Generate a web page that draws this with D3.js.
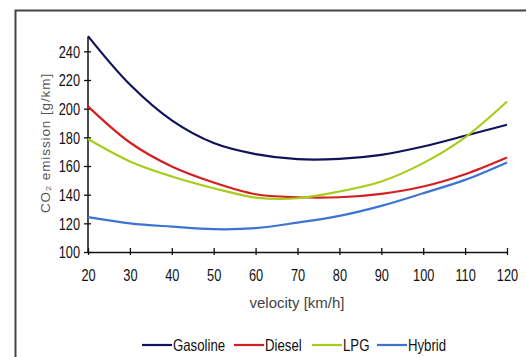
<!DOCTYPE html>
<html>
<head>
<meta charset="utf-8">
<script src="https://cdn.jsdelivr.net/npm/d3@7"></script>
<style>
  html, body { margin: 0; padding: 0; background: #fff; }
  svg { display: block; }
</style>
</head>
<body>
<div id="chart"></div>
<script>
// velocity in km/h
const velocities = [20, 30, 40, 50, 60, 70, 80, 90, 100, 110, 120];

// CO2 emission in g/km
const gasoline = [250.6, 216.8, 191.8, 176.0, 168.3, 164.8, 165.0, 167.8, 173.6, 181.1, 188.8];
const diesel   = [201.6, 176.4, 159.7, 148.5, 140.3, 138.2, 138.2, 140.6, 145.7, 154.3, 166.0];
const lpg      = [178.8, 163.2, 152.7, 144.5, 138.0, 137.5, 142.2, 149.2, 162.0, 180.0, 205.0];
const hybrid   = [124.3, 120.0, 117.7, 115.9, 116.6, 120.5, 125.2, 132.2, 141.0, 150.3, 162.5];

const seriesNames = ['Gasoline', 'Diesel', 'LPG', 'Hybrid'];
const seriesColors = ['#12125c', '#d42020', '#a8cc1c', '#3b74d2'];

const yTicks = [100, 120, 140, 160, 180, 200, 220, 240];
const xTicks = [20, 30, 40, 50, 60, 70, 80, 90, 100, 110, 120];

const series = [gasoline, diesel, lpg, hybrid].map((vals, i) => ({
  name: seriesNames[i],
  color: seriesColors[i],
  points: vals.map((v, j) => ({ x: velocities[j], y: v }))
}));

const W = 527, H = 357;
const NARROW = 0.8; // no Arial Narrow here, so squeeze Liberation Sans
const FONT = '"Liberation Sans", Arial, sans-serif';

const svg = d3.select('#chart').append('svg')
  .attr('width', W)
  .attr('height', H)
  .style('font-family', FONT);

// squeeze a text horizontally, keeping its anchor point in place
function squeeze(sel) {
  sel.each(function () {
    const t = d3.select(this);
    const tx = +t.attr('x') || 0;
    t.attr('x', tx / NARROW).attr('transform', `scale(${NARROW},1)`);
  });
}

// outer frame (only top and left edges are visible in the crop)
svg.append('path')
  .attr('d', `M15.5,${H} V10.5 H526`)
  .attr('fill', 'none')
  .attr('stroke', '#444')
  .attr('stroke-width', 2);

const x = d3.scaleLinear().domain([20, 120]).range([88, 507]);
const y = d3.scaleLinear().domain([100, 250]).range([252, 37]);

// axes
const yAxis = svg.append('g')
  .attr('transform', `translate(${x(20)},0)`)
  .call(d3.axisLeft(y).tickValues(yTicks).tickSizeInner(4).tickSizeOuter(0).tickPadding(4));
const xAxis = svg.append('g')
  .attr('transform', `translate(0,${y(100)})`)
  .call(d3.axisBottom(x).tickValues(xTicks).tickSizeInner(4).tickSizeOuter(0).tickPadding(14));

[yAxis, xAxis].forEach(g => {
  g.select('.domain').attr('stroke', '#111').attr('stroke-width', 1.5);
  g.selectAll('.tick line').attr('stroke', '#111').attr('stroke-width', 1.3);
  g.selectAll('.tick text')
    .attr('fill', '#111')
    .style('font-family', FONT)
    .style('font-size', '16px');
});
// ticks cross the axis line
yAxis.selectAll('.tick line').attr('x1', -4).attr('x2', 3);
xAxis.selectAll('.tick line').attr('y1', -4).attr('y2', 3);
// y-axis line runs to the top of the scale
yAxis.select('.domain').attr('d', `M0,${y(250)}V${y(100)}`);
yAxis.selectAll('.tick text').attr('dy', '0.36em').call(squeeze);
xAxis.selectAll('.tick text').attr('dy', '0.71em').call(squeeze);

// curves
const line = d3.line()
  .x(d => x(d.x))
  .y(d => y(d.y))
  .curve(d3.curveCatmullRom.alpha(0.5));

svg.append('g')
  .selectAll('path')
  .data(series)
  .join('path')
    .attr('d', d => line(d.points))
    .attr('fill', 'none')
    .attr('stroke', d => d.color)
    .attr('stroke-width', 2.2);

// axis titles
svg.append('text')
  .attr('x', 297)
  .attr('y', 308)
  .attr('text-anchor', 'middle')
  .style('font-size', '15px')
  .attr('fill', '#444')
  .text('velocity [km/h]');

svg.append('text')
  .attr('transform', 'translate(50,143) rotate(-90)')
  .attr('text-anchor', 'middle')
  .style('font-size', '13.5px')
  .style('letter-spacing', '0.9px')
  .attr('fill', '#555')
  .text('CO₂ emission [g/km]');

// legend
const legendX = [142, 234, 312, 377];
const legend = svg.append('g')
  .selectAll('g')
  .data(series)
  .join('g')
    .attr('transform', (d, i) => `translate(${legendX[i]},345)`);
legend.append('line')
  .attr('x1', 0).attr('x2', 30)
  .attr('stroke', d => d.color)
  .attr('stroke-width', 2.2);
legend.append('text')
  .attr('x', 31)
  .attr('dy', '0.36em')
  .style('font-size', '16.5px')
  .attr('fill', '#111')
  .text(d => d.name)
  .call(squeeze);
</script>
</body>
</html>
